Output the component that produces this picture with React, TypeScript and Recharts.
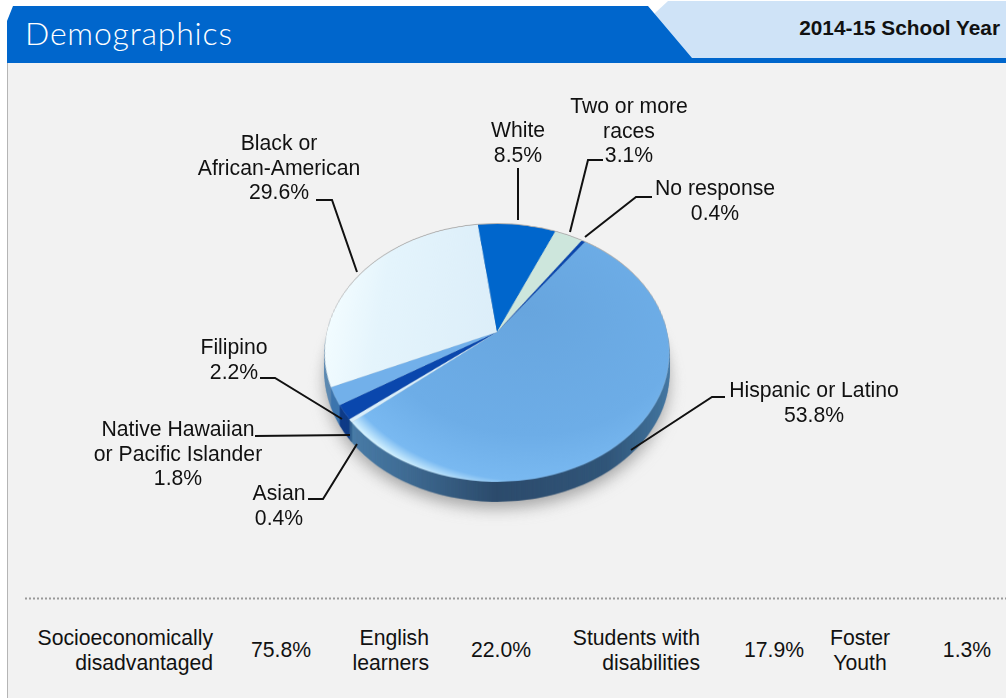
import { Cell, Pie, PieChart } from 'recharts'

// slices, clockwise from the top right
const groups = ['Hispanic or Latino', 'Asian', 'Native Hawaiian or Pacific Islander', 'Filipino', 'Black or African-American', 'White', 'Two or more races', 'No response']
const shares = [53.8, 0.4, 1.8, 2.2, 29.6, 8.5, 3.1, 0.4]
const topColors = ['url(#hispanicTop)', '#d8eefb', '#0a47ad', '#72b0ea', 'url(#blackTop)', '#0066cc', '#cde6dc', '#0a47ad']
const wallColors = ['url(#wallShade)', '#2f5f8e', '#0d3a86', '#3b74ad', '#5a88b0', '#0056ad', '#a9c4ba', '#0a3a8c']

const labelLines = [
  ['Hispanic or Latino'],
  ['Asian'],
  ['Native Hawaiian', 'or Pacific Islander'],
  ['Filipino'],
  ['Black or', 'African-American'],
  ['White'],
  ['Two or more', 'races'],
  ['No response'],
]

const footerLabels = [['Socioeconomically', 'disadvantaged'], ['English', 'learners'], ['Students with', 'disabilities'], ['Foster', 'Youth']]
const footerValues = ['75.8%', '22.0%', '17.9%', '1.3%']

const chartData = groups.map((name, i) => ({ name, value: shares[i] }))

// callout text block (centre x, first baseline) and leader path for each slice
const callouts = [
  { x: 814, y: 397, path: '725,397 712,397 631,450' },
  { x: 279, y: 500, path: '308,499 323,499 357,444' },
  { x: 178, y: 436, path: '255,436 350,435' },
  { x: 234, y: 354, path: '260,378 275,378 342,419' },
  { x: 279, y: 150, path: '316,200 332,200 357,272' },
  { x: 518, y: 137, path: '518,168 518,220' },
  { x: 629, y: 113, path: '603,160 588,160 570,232' },
  { x: 715, y: 195, path: '652,197 636,197 585,237' },
]
const footerLabelPos = [
  { x: 213, anchor: 'end' },
  { x: 429, anchor: 'end' },
  { x: 700, anchor: 'end' },
  { x: 860, anchor: 'middle' },
]
const footerValueX = [281, 501, 774, 967]

const FONT = '"Liberation Sans", Arial, sans-serif'
const TEXT_SIZE = 21.2
const LAYER = 400
const MID = LAYER / 2
const RADIUS = 170
const START = 54.2
const wallSteps = Array.from({ length: 20 }, (_, i) => 20 - i)

const tilted = (offset: number, extra = {}) => ({
  position: 'absolute' as const,
  left: 497 - MID,
  top: 332 - MID + offset,
  width: LAYER,
  height: LAYER,
  transform: 'perspective(705px) rotateX(42.4deg)',
  transformOrigin: `${MID}px ${MID}px`,
  ...extra,
})

const renderCallout = (props: any) => {
  const { index, value } = props
  const spot = callouts[index]
  const lines = [...labelLines[index], `${value}%`]
  return (
    <g key={index}>
      <polyline points={spot.path} fill="none" stroke="#111" strokeWidth={2} />
      <text x={spot.x} y={spot.y} textAnchor="middle" fontFamily={FONT} fontSize={TEXT_SIZE} fill="#111">
        {lines.map((line, i) => (
          <tspan key={i} x={spot.x} dy={i === 0 ? 0 : 24.6}>{line}</tspan>
        ))}
      </text>
    </g>
  )
}

const Disc = ({ colors, children }: { colors: string[]; children?: any }) => (
  <PieChart width={LAYER} height={LAYER} margin={{ top: 0, right: 0, bottom: 0, left: 0 }}>
    {children}
    <Pie
      data={chartData}
      dataKey="value"
      cx={MID}
      cy={MID}
      innerRadius={0}
      outerRadius={RADIUS}
      startAngle={START}
      endAngle={START - 360}
      stroke="none"
      isAnimationActive={false}
    >
      {colors.map((c, i) => <Cell key={i} fill={c} />)}
    </Pie>
  </PieChart>
)

export default function App() {
  return (
    <div style={{ position: 'absolute', left: 0, top: 0, width: 1006, height: 698, overflow: 'hidden', background: '#fff' }}>
      <svg width={1006} height={698} style={{ position: 'absolute', left: 0, top: 0 }}>
        <rect x={7} y={63} width={999} height={635} fill="#f2f2f2" />
        <line x1={7.5} y1={63} x2={7.5} y2={698} stroke="#b5b5b5" />
        <polygon points="668,1 1006,1 1006,60 692,60 654,14" fill="#cfe3f7" />
        <polygon points="7,21 13,6 648,6 692,58 1006,58 1006,63 7,63" fill="#0066cc" />
        <text x={25} y={45} fontFamily="Lato, sans-serif" fontWeight={300} fontSize={32} letterSpacing={0.8} fill="#fff">Demographics</text>
        <text x={1000} y={35} textAnchor="end" fontFamily={FONT} fontWeight={700} fontSize={20.8} fill="#111">2014-15 School Year</text>
        <line x1={25} y1={598.5} x2={1006} y2={598.5} stroke="#999" strokeWidth={2} strokeDasharray="2 2" />
        {footerLabels.map((lines, i) => (
          <text key={i} textAnchor={footerLabelPos[i].anchor as any} fontFamily={FONT} fontSize={TEXT_SIZE} fill="#111">
            {lines.map((line, j) => (
              <tspan key={j} x={footerLabelPos[i].x} y={645 + j * 25}>{line}</tspan>
            ))}
          </text>
        ))}
        {footerValues.map((v, i) => (
          <text key={i} x={footerValueX[i]} y={657} textAnchor="middle" fontFamily={FONT} fontSize={TEXT_SIZE} fill="#111">{v}</text>
        ))}
      </svg>

      {/* soft shadow under the disc */}
      <div style={tilted(27, { filter: 'blur(7px)', opacity: 0.6 })}>
        <Disc colors={shares.map(() => '#777')} />
      </div>

      {/* side wall, built from stacked copies */}
      {wallSteps.map(step => (
        <div key={step} style={tilted(step)}>
          <Disc colors={wallColors}>
            <defs>
              <linearGradient id="wallShade" gradientUnits="userSpaceOnUse" x1={30} y1={0} x2={370} y2={0}>
                <stop offset="0" stopColor="#4f86b4" />
                <stop offset="0.25" stopColor="#3f6d96" />
                <stop offset="0.5" stopColor="#2b4a6b" />
                <stop offset="0.78" stopColor="#2f5478" />
                <stop offset="1" stopColor="#447aa6" />
              </linearGradient>
            </defs>
          </Disc>
        </div>
      ))}

      {/* hairline rim along the far edge */}
      <div style={tilted(-0.6)}>
        <Disc colors={shares.map(() => '#b0b0b0')} />
      </div>

      {/* top face */}
      <div style={tilted(0)}>
        <Disc colors={topColors}>
          <defs>
            <radialGradient id="hispanicTop" gradientUnits="userSpaceOnUse" cx={MID + 30} cy={MID - 30} r={212}>
              <stop offset="0" stopColor="#67a5de" />
              <stop offset="0.72" stopColor="#6dade7" />
              <stop offset="0.94" stopColor="#79b9f1" />
              <stop offset="1" stopColor="#d4f2ff" />
            </radialGradient>
            <linearGradient id="blackTop" gradientUnits="userSpaceOnUse" x1={30} y1={0} x2={MID} y2={0}>
              <stop offset="0" stopColor="#f2fcff" />
              <stop offset="0.3" stopColor="#e4f4fc" />
              <stop offset="1" stopColor="#dceef9" />
            </linearGradient>
          </defs>
        </Disc>
      </div>

      {/* callouts sit flat on the page, driven by an invisible pie */}
      <div style={{ position: 'absolute', left: 0, top: 0 }}>
        <PieChart width={1006} height={698} margin={{ top: 0, right: 0, bottom: 0, left: 0 }}>
          <Pie
            data={chartData}
            dataKey="value"
            cx={497}
            cy={332}
            outerRadius={1}
            fill="none"
            stroke="none"
            startAngle={START}
            endAngle={START - 360}
            label={renderCallout}
            labelLine={false}
            isAnimationActive={false}
          />
        </PieChart>
      </div>
    </div>
  )
}
